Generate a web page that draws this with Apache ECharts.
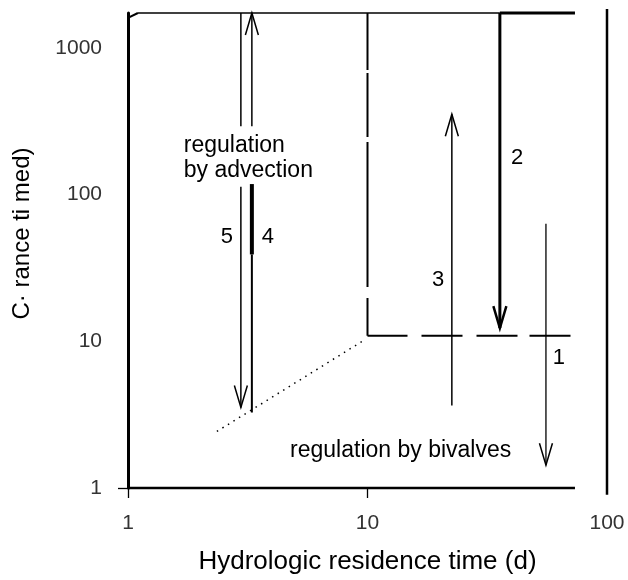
<!DOCTYPE html>
<html>
<head>
<meta charset="utf-8">
<script src="https://cdn.jsdelivr.net/npm/echarts@6/dist/echarts.min.js"></script>
<style>
html,body{margin:0;padding:0;background:#fff;}
#chart{width:628px;height:580px;}
</style>
</head>
<body>
<div id="chart"></div>
<script>
// ---- axis ticks / ranges ----
const xTickLabels = [1, 10, 100];
const xTickMarks = [1, 10];
const yTickLabels = [1, 10, 100, 1000];
const yTickMarks = [1];
const xRange = [1, 100];
const yRange = [1, 1730];

// ---- frame / boundary lines (x = residence time, y = clearance time) ----
const bottomLine = [[1, 1], [73.5, 1]];
const topHook = [[1, 1600], [1.1, 1730]];
const topThin = [[1.1, 1730], [35.7, 1730]];
const topThick = [[35.7, 1730], [73.5, 1730]];
const rightLine = [[100, 1845], [100, 0.9]];
const boundaryVertical = [[10, 1730], [10, 10.9]];
const boundaryHorizontal = [[10, 10.9], [70.7, 10.9]];
const oneToOneLine = [[2.35, 2.43], [9.6, 10.1]];

// ---- arrows: [x, yFrom, yTo] ----
const arrow5Upper = [2.96, 1730, 292];
const arrow5Lower = [2.96, 113, 3.54];
const arrow4Upper = [3.29, 292, 1730];
const arrow4Thick = [3.29, 118, 39.1];
const arrow4Lower = [3.29, 39.1, 3.27];
const arrow2 = [35.7, 1730, 12.3];
const arrow3 = [22.5, 3.65, 353];
const arrow1 = [55.6, 63.4, 1.43];

// ---- annotations ----
const regionTexts = ['regulation\nby advection', 'regulation by bivalves'];
const regionPos = [[1.71, 177], [4.75, 1.80]];
const numberTexts = ['5', '4', '2', '3', '1'];
const numberPos = [[2.59, 51.8], [3.84, 51.8], [42.1, 177], [19.7, 26.1], [63.0, 7.72]];

const INK = '#000';
const FONT = "'Liberation Sans', Arial, Helvetica, sans-serif";

function lineSeries(data, width, type) {
  return {
    type: 'line', data: data, symbol: 'none', clip: false, silent: true,
    lineStyle: { color: INK, width: width, type: type || 'solid', cap: 'butt' },
    z: 3
  };
}

function arrowSeries(item, width, head, headWidth) {
  return {
    type: 'custom', data: [item], silent: true, clip: false, z: 4,
    encode: { x: 0, y: [1, 2] },
    renderItem: function (params, api) {
      const p1 = api.coord([api.value(0), api.value(1)]);
      const p2 = api.coord([api.value(0), api.value(2)]);
      const children = [{
        type: 'line',
        shape: { x1: p1[0], y1: p1[1], x2: p2[0], y2: p2[1] },
        style: { stroke: INK, lineWidth: width, lineCap: 'butt' }
      }];
      if (head) {
        const dir = p2[1] > p1[1] ? 1 : -1;
        children.push({
          type: 'polyline',
          shape: { points: [[p2[0] - 6.5, p2[1] - dir * 22], [p2[0], p2[1]], [p2[0] + 6.5, p2[1] - dir * 22]] },
          style: { stroke: INK, fill: null, lineWidth: headWidth || 1.5 }
        });
      }
      return { type: 'group', children: children };
    }
  };
}

function textSeries(texts, pos, size, align, lineHeight) {
  return {
    type: 'custom', silent: true, clip: false, z: 5,
    data: pos.map(function (p, i) { return [p[0], p[1], i]; }),
    encode: { x: 0, y: 1 },
    renderItem: function (params, api) {
      const p = api.coord([api.value(0), api.value(1)]);
      return {
        type: 'text',
        x: p[0], y: p[1],
        style: {
          text: texts[api.value(2)], fill: INK, fontSize: size, fontFamily: FONT,
          lineHeight: lineHeight || size, align: align, verticalAlign: 'middle'
        }
      };
    }
  };
}

const chart = echarts.init(document.getElementById('chart'));
chart.setOption({
  backgroundColor: '#fff',
  animation: false,
  grid: { left: 128, right: 21, top: 13, bottom: 89, containLabel: false },
  xAxis: {
    type: 'log', logBase: 10, min: xRange[0], max: xRange[1],
    name: 'Hydrologic residence time (d)', nameLocation: 'middle', nameGap: 61,
    nameTextStyle: { color: INK, fontSize: 26, fontFamily: FONT },
    axisLine: { show: false },
    axisTick: { show: true, customValues: xTickMarks, length: 10, lineStyle: { color: INK, width: 1.3 } },
    axisLabel: { customValues: xTickLabels, margin: 25, color: '#333', fontSize: 21, fontFamily: FONT,
      formatter: function (v) { return String(v); } },
    splitLine: { show: false }
  },
  yAxis: {
    type: 'log', logBase: 10, min: yRange[0], max: yRange[1],
    name: 'C\u00b7 rance ti med)', nameLocation: 'middle', nameGap: 94, nameRotate: 90,
    nameTextStyle: { color: INK, fontSize: 24, fontFamily: FONT, padding: [0, 0, 0, 34] },
    axisLine: { show: true, lineStyle: { color: INK, width: 3 } },
    axisTick: { show: true, customValues: yTickMarks, length: 10, lineStyle: { color: INK, width: 1.3 } },
    axisLabel: { customValues: yTickLabels, margin: 26, color: '#333', fontSize: 21, fontFamily: FONT,
      formatter: function (v) { return String(v); } },
    splitLine: { show: false }
  },
  series: [
    lineSeries(bottomLine, 2.5),
    lineSeries(topHook, 2),
    lineSeries(topThin, 1.5),
    lineSeries(topThick, 3),
    lineSeries(rightLine, 2.5),
    lineSeries(boundaryVertical, 2, [57, 3, 64, 5, 145, 11, 40, 10]),
    lineSeries(boundaryHorizontal, 2, [40, 14, 41, 14, 41, 12, 41, 10]),
    lineSeries(oneToOneLine, 1.5, [1.5, 5]),
    arrowSeries(arrow5Upper, 1.5, false),
    arrowSeries(arrow5Lower, 1.5, true, 1.5),
    arrowSeries(arrow4Upper, 1.5, true, 1.5),
    arrowSeries(arrow4Thick, 4, false),
    arrowSeries(arrow4Lower, 2, false),
    arrowSeries(arrow2, 3, true, 2.5),
    arrowSeries(arrow3, 1.5, true, 1.5),
    arrowSeries(arrow1, 1.3, true, 1.5),
    textSeries(regionTexts, regionPos, 23, 'left', 25),
    textSeries(numberTexts, numberPos, 22, 'center')
  ]
});
</script>
</body>
</html>
